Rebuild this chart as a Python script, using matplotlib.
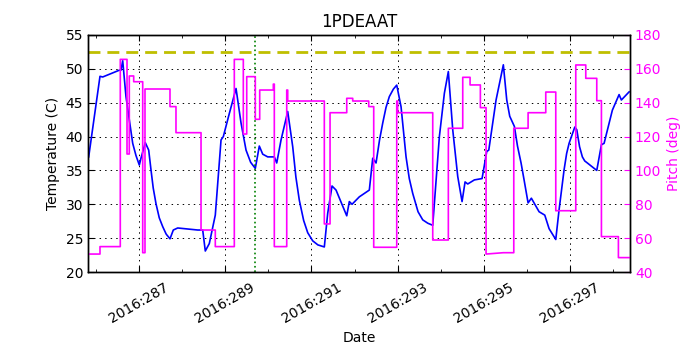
import matplotlib
matplotlib.use("Agg")
import matplotlib.pyplot as plt
from matplotlib.ticker import FixedLocator, MultipleLocator, FuncFormatter

# Temperature (left axis) -- day of year 2016
temp_days = [285.833, 286.095, 286.158, 286.543, 286.582, 286.622, 286.698, 286.854,
             286.930, 287.007, 287.046, 287.146, 287.225, 287.278, 287.330, 287.394,
             287.470, 287.550, 287.630, 287.719,
             287.796, 287.898, 288.362, 288.478, 288.538, 288.631, 288.770, 288.903,
             288.956, 289.095, 289.251, 289.367, 289.483, 289.590, 289.698, 289.791,
             289.870, 289.986, 290.139, 290.195, 290.295, 290.450, 290.566, 290.640,
             290.719, 290.820, 290.914, 291.030, 291.150, 291.299, 291.378, 291.478,
             291.571, 291.819, 291.879, 291.942,
             292.111, 292.343, 292.422, 292.499, 292.580, 292.654, 292.730, 292.807,
             292.900, 292.979, 293.079, 293.195, 293.270, 293.350, 293.473, 293.582,
             293.700, 293.814, 293.968, 294.084, 294.176,
             294.278, 294.394, 294.494, 294.564, 294.626, 294.780, 294.958, 295.067,
             295.114, 295.283, 295.452, 295.531, 295.600, 295.708, 295.780, 295.863,
             295.933, 296.026,
             296.102, 296.281, 296.413, 296.513, 296.668, 296.745, 296.861, 296.920,
             296.977, 297.109, 297.156, 297.220, 297.285, 297.340, 297.401, 297.619,
             297.727, 297.789, 297.981, 298.137, 298.190, 298.369]
temp_vals = [37.0, 48.9, 48.8, 49.8, 49.8, 51.2, 45.9, 39.0,
             37.2, 35.8, 36.8, 39.1, 38.0, 35.1, 32.4, 30.1,
             28.0, 26.7, 25.6, 24.9,
             26.2, 26.5, 26.2, 26.2, 23.1, 24.2, 28.4, 39.5,
             40.0, 43.4, 47.1, 42.0, 38.0, 36.2, 35.3, 38.6,
             37.4, 37.0, 37.0, 36.1, 39.5, 43.7, 38.5, 34.0,
             30.6, 27.6, 25.8, 24.6, 24.0, 23.7, 28.7, 32.7,
             32.1, 28.3, 30.4, 30.0,
             31.1, 32.1, 36.8, 36.1, 39.5, 42.0, 44.3, 45.9,
             47.0, 47.6, 44.4, 37.0, 33.8, 31.6, 28.9, 27.7,
             27.2, 26.9, 40.0, 46.4, 49.6,
             41.0, 34.1, 30.4, 33.3, 33.0, 33.6, 33.8, 37.8,
             38.0, 45.4, 50.6, 45.4, 43.0, 41.5, 38.6, 36.1,
             33.6, 30.2,
             30.9, 28.9, 28.4, 26.4, 24.8, 29.2, 35.1, 37.5,
             39.0, 41.4, 41.0, 38.5, 37.0, 36.4, 36.1, 35.0,
             38.8, 39.0, 43.9, 46.2, 45.4, 46.6]

# Pitch (right axis)
pitch_days = [285.833, 286.095, 286.095, 286.566, 286.566, 286.722, 286.722, 286.775,
              286.775, 286.877, 286.877, 287.086, 287.086, 287.139, 287.139, 287.719,
              287.719, 287.858, 287.858, 288.439, 288.439, 288.770, 288.770, 289.211,
              289.211, 289.420, 289.420, 289.499, 289.499, 289.698, 289.698, 289.800,
              289.800, 290.116, 290.116, 290.139, 290.139, 290.427, 290.427, 290.450,
              290.450, 291.299, 291.299, 291.432, 291.432, 291.819, 291.819, 291.958,
              291.958, 292.329, 292.329, 292.445, 292.445, 292.979, 292.979, 293.000,
              293.000, 293.814, 293.814, 294.176, 294.176, 294.510, 294.510, 294.680,
              294.680, 294.919, 294.919, 295.051, 295.051, 295.452, 295.694, 295.694,
              296.026, 296.026, 296.436, 296.436, 296.668, 296.668, 297.132, 297.132,
              297.364, 297.364, 297.619, 297.619, 297.727, 297.727, 298.121, 298.121,
              298.369]
pitch_vals = [50.6, 50.6, 55.0, 55.0, 165.6, 165.6, 109.7, 109.7,
              155.8, 155.8, 152.4, 152.4, 51.4, 51.4, 148.1, 148.1,
              137.7, 137.7, 122.3, 122.3, 64.8, 64.8, 55.0, 55.0,
              165.6, 165.6, 121.5, 121.5, 155.4, 155.4, 130.2, 130.2,
              147.5, 147.5, 151.0, 151.0, 55.0, 55.0, 147.5, 147.5,
              141.0, 141.0, 68.4, 68.4, 134.1, 134.1, 142.6, 142.6,
              141.0, 141.0, 137.7, 137.7, 54.6, 54.6, 141.0, 141.0,
              134.1, 134.1, 58.9, 58.9, 124.9, 124.9, 155.0, 155.0,
              150.5, 150.5, 137.1, 137.1, 50.6, 51.4, 51.4, 124.9,
              124.9, 134.1, 134.1, 146.3, 146.3, 76.2, 76.2, 162.3,
              162.3, 154.4, 154.4, 141.2, 141.2, 60.9, 60.9, 48.5,
              48.5]

planning_limit = 52.5
event_day = 289.69
major_tick_days = [287, 289, 291, 293, 295, 297]
temp_ticks = [20, 25, 30, 35, 40, 45, 50, 55]
pitch_ticks = [40, 60, 80, 100, 120, 140, 160, 180]

fig = plt.figure(figsize=(7, 3.5), dpi=100)
ax = fig.add_axes([88/700, 1-272/350, (630-88)/700, (272-35)/350])

ax.plot(temp_days, temp_vals, color='b', lw=1.2)
ax.axhline(planning_limit, color='y', lw=2, ls='--', dashes=(4.3, 2.5))
ax.axvline(event_day, color='g', lw=1.2, ls=':')
ax.set_xlim(285.817, 298.39)
ax.set_ylim(20, 55)
ax.set_yticks(temp_ticks)
ax.xaxis.set_major_locator(FixedLocator(major_tick_days))
ax.xaxis.set_minor_locator(MultipleLocator(1))
ax.xaxis.set_major_formatter(FuncFormatter(lambda v, p: f"2016:{int(round(v)):03d}"))
ax.grid(True, which='major', color='k', ls=(0, (1.5, 4.2)), lw=0.7)
ax.tick_params(axis='both', which='both', direction='in', labelsize=10)
ax.tick_params(axis='x', which='both', top=True)
ax.tick_params(axis='x', which='major', length=4, pad=6)
ax.tick_params(axis='x', which='minor', length=2)
ax.tick_params(axis='y', which='major', length=4, right=False)
for lab in ax.get_xticklabels():
    lab.set_rotation(30)
    lab.set_ha('center')
ax.set_xlabel('Date', fontsize=10)
ax.set_ylabel('Temperature (C)', fontsize=10)
ax.set_title('1PDEAAT', fontsize=12)

ax2 = ax.twinx()
ax2.plot(pitch_days, pitch_vals, color='magenta', lw=1.2)
ax2.set_ylim(40, 180)
ax2.set_yticks(pitch_ticks)
ax2.tick_params(axis='y', direction='in', length=4, labelsize=10, colors='magenta')
ax2.spines['right'].set_color('k')
ax2.set_ylabel('Pitch (deg)', color='magenta', fontsize=10)
ax2.set_xlim(285.817, 298.39)

for a in (ax, ax2):
    for s in a.spines.values():
        s.set_linewidth(1.0)

fig.savefig('out.png', dpi=100)
